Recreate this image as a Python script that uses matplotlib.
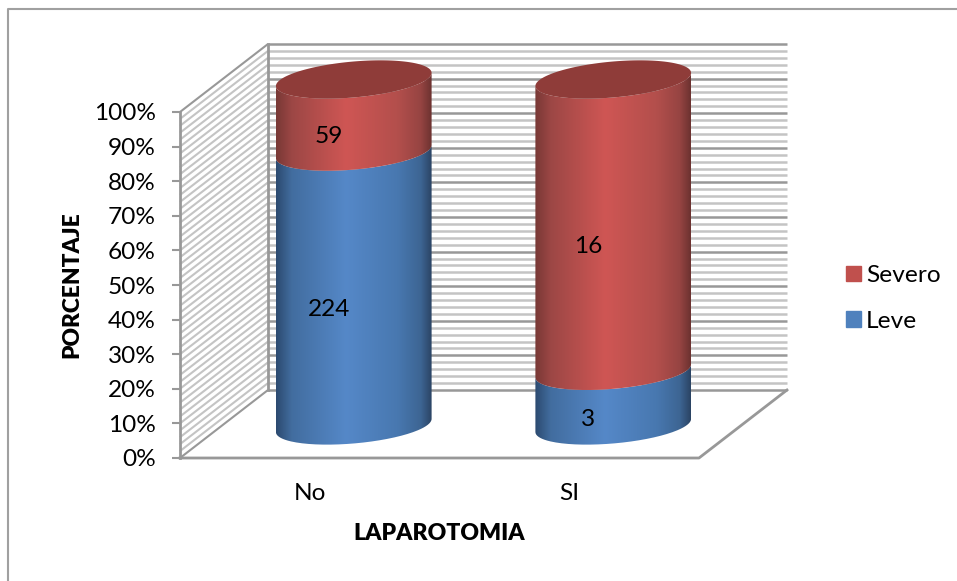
import numpy as np
import matplotlib
matplotlib.use("Agg")
import matplotlib.pyplot as plt
from matplotlib.colors import LinearSegmentedColormap
from matplotlib.lines import Line2D
from matplotlib.patches import Patch, PathPatch
from matplotlib.path import Path

categories = ["No", "SI"]
leve = [224, 3]
severo = [59, 16]
percent_ticks = list(range(0, 101, 10))
grid_levels = list(range(0, 101, 2))

W, H = 957, 581
plt.rcParams["font.family"] = ["Lato", "DejaVu Sans"]
FS = 17.6

fig = plt.figure(figsize=(W / 100, H / 100), dpi=100)
ax = fig.add_axes([180 / W, 1 - 458 / H, 519 / W, 346 / H])
ax.set_xlim(-0.5, 1.5)
ax.set_ylim(0, 100)
for s in ax.spines.values():
    s.set_visible(False)
ax.patch.set_alpha(0)

# projected depth of the 3D box, in data units
DX, DY = 88 / 259.5, 68 / 3.46
GRID, MAJOR = "#c4c4c4", "#989898"

for lv in grid_levels:
    c = MAJOR if lv % 10 == 0 else GRID
    z = 3 if lv % 10 == 0 else 2
    ax.plot([-0.5, -0.5 + DX], [lv, lv + DY], color=GRID if lv not in (0, 100) else MAJOR,
            lw=1.5, clip_on=False, zorder=z, solid_capstyle="butt")
    ax.plot([-0.5 + DX, 1.5 + DX], [lv + DY, lv + DY], color=c, lw=1.8,
            clip_on=False, zorder=z, solid_capstyle="butt")
for xs, ys in [([-0.5, -0.5], [0, 100]),
               ([-0.5 + DX, -0.5 + DX], [DY, 100 + DY]),
               ([-0.5, 1.5, 1.5 + DX], [0, 0, DY])]:
    ax.plot(xs, ys, color=MAJOR, lw=2.0, clip_on=False, zorder=4)

ax.set_xticks(range(len(categories)), categories, fontsize=FS)
ax.set_yticks(percent_ticks, [f"{p}%" for p in percent_ticks], fontsize=FS)
ax.tick_params(axis="x", length=0, pad=18)
ax.tick_params(axis="y", length=6, width=1.5, color=MAJOR, pad=11.5)
ax.set_xlabel("LAPAROTOMIA", fontsize=16.6, fontweight=800, labelpad=14)
ax.set_ylabel("PORCENTAJE", fontsize=16.4, fontweight=800, labelpad=8.5)

# cylinders
A, C, D = 0.30, 1.9, 5.2      # ellipse shape
CX, CY = DX * 0.5, 9.4        # mid-depth offset
t_low = np.linspace(np.pi, 2 * np.pi, 90)
t_all = np.linspace(0, 2 * np.pi, 180)

cm_blue = LinearSegmentedColormap.from_list("b", [(0, "#2c4a70"), (0.1, "#426d9f"),
    (0.45, "#5588c8"), (0.78, "#4878b0"), (0.93, "#3d6593"), (1, "#2b4464")])
cm_red = LinearSegmentedColormap.from_list("r", [(0, "#783835"), (0.1, "#9c4745"),
    (0.45, "#cf5654"), (0.78, "#b34f4c"), (0.93, "#964442"), (1, "#6c3230")])
ramp = np.linspace(0, 1, 256)[None, :]


def arc(xc, v, t):
    return xc + A * np.cos(t), v + C * np.cos(t) + D * np.sin(t)


def segment(xc, v0, v1, cmap):
    x0, y0 = arc(xc, v0, t_low)
    x1, y1 = arc(xc, v1, t_low[::-1])
    verts = np.column_stack([np.r_[x0, x1], np.r_[y0, y1]])
    patch = PathPatch(Path(verts), transform=ax.transData, fc="none", ec="none")
    ax.add_patch(patch)
    patch.set_clip_on(False)
    im = ax.imshow(ramp, cmap=cmap, vmin=0, vmax=1, aspect="auto", zorder=6,
                   extent=[xc - A, xc + A, v0 - 12, v1 + 12], interpolation="bilinear")
    im.set_clip_box(fig.bbox)
    im.set_clip_path(patch)


for i, (lv, sv) in enumerate(zip(leve, severo)):
    total = lv + sv
    p = 100 * lv / total
    xc = i + CX
    segment(xc, CY, CY + p, cm_blue)
    segment(xc, CY + p, CY + 100, cm_red)
    tx, ty = arc(xc, CY + 100, t_all)
    ax.fill(tx, ty, color="#8f3c39", zorder=7, lw=0, clip_on=False)
    # data labels
    ax.text(xc - 0.097, CY + p / 2 - 6.1, str(lv), ha="center", va="center", fontsize=FS, zorder=8)
    ax.text(xc - 0.097, CY + p + (100 - p) / 2 - 6.1, str(sv), ha="center", va="center", fontsize=FS, zorder=8)

ax.set_xlim(-0.5, 1.5)
ax.set_ylim(0, 100)

handles = [Patch(color="#c0504d", label="Severo"), Patch(color="#4f81bd", label="Leve")]
fig.legend(handles=handles, loc="center left", bbox_to_anchor=(846 / W, 1 - 298.5 / H),
           frameon=False, fontsize=FS, handlelength=0.6, handleheight=0.6,
           handletextpad=0.22, labelspacing=1.0, borderpad=0, borderaxespad=0)

# chart frame
fig.add_artist(Line2D([8 / W, 8 / W, 1], [0, 1 - 9 / H, 1 - 9 / H], color="#a0a0a0", lw=1.5))

fig.savefig("out.png", dpi=100)
